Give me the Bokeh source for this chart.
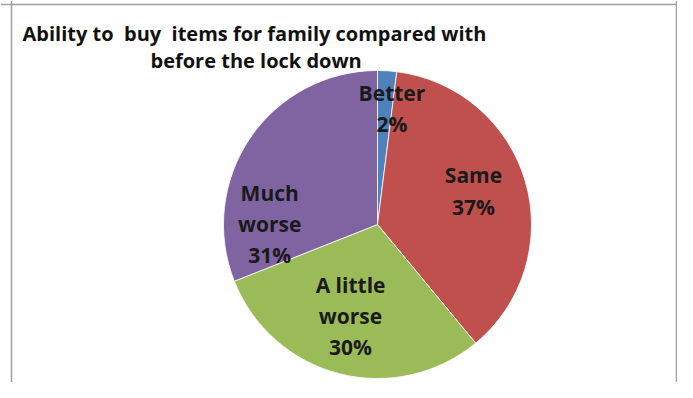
import math
from bokeh.plotting import figure
from bokeh.models import Range1d, Span, ColumnDataSource
from bokeh.core.properties import value
from bokeh.embed import file_html
from bokeh.resources import INLINE

# ---- data ----
categories = ["Better", "Same", "A little worse", "Much worse"]
label_names = ["Better", "Same", "A little\nworse", "Much\nworse"]
percents = [2, 37, 30, 31]
colors = ["#4F81BD", "#C0504D", "#9BBB59", "#8064A2"]
title_lines = ["Ability to\u00a0 buy\u00a0 items for family compared with", "before the lock down"]

# ---- layout (screen pixels; y measured from top) ----
W, H = 677, 382
def sy(y):
    return H - y

CX, CY = 377, sy(224)     # pie centre
R = 154
label_r = [0.76, 0.66, 0.62, 0.70]
label_shift_deg = [3.5, -3.0, 2.0, -34.0]
FONT = "Open Sans"

p = figure(width=W, height=H, output_backend="svg", toolbar_location=None,
           x_range=Range1d(0, W), y_range=Range1d(0, H), min_border=0)
p.axis.visible = False
p.grid.visible = False
p.outline_line_color = None
p.background_fill_color = "white"
p.border_fill_color = "white"

# wedges
total = sum(percents)
starts, ends, lx, ly, texts = [], [], [], [], []
cum = 0.0
for i, v in enumerate(percents):
    a0 = math.pi / 2 - 2 * math.pi * cum / total
    cum += v
    a1 = math.pi / 2 - 2 * math.pi * cum / total
    starts.append(a0)
    ends.append(a1)
    mid = (a0 + a1) / 2 + math.radians(-label_shift_deg[i])
    lx.append(CX + R * label_r[i] * math.cos(mid))
    ly.append(CY + R * label_r[i] * math.sin(mid))
    texts.append(f"{label_names[i]}\n{v}%")

src = ColumnDataSource(dict(start=starts, end=ends, color=colors))
p.wedge(x=CX, y=CY, radius=R, start_angle="start", end_angle="end",
        direction="clock", fill_color="color", line_color="white",
        line_width=0.8, source=src)

p.text(x=lx, y=ly, text=texts, text_align="center", text_baseline="middle",
       text_font=value(FONT), text_font_style="bold", text_font_size="21px",
       text_color="#1a1a1a", text_line_height=1.12)

# title
p.text(x=[22, 150], y=[sy(33), sy(60)], text=title_lines, text_align="left",
       text_baseline="alphabetic", text_font=value(FONT), text_font_style="bold",
       text_font_size="20px", text_color="#111111")

# frame lines
p.add_layout(Span(location=11, dimension="height", line_color="#a0a0a0", line_width=1.5))
p.add_layout(Span(location=W - 1, dimension="height", line_color="#a0a0a0", line_width=1.5))
p.add_layout(Span(location=sy(4), dimension="width", line_color="#a0a0a0", line_width=1.5))

open("out.html", "w").write(file_html(p, INLINE))
